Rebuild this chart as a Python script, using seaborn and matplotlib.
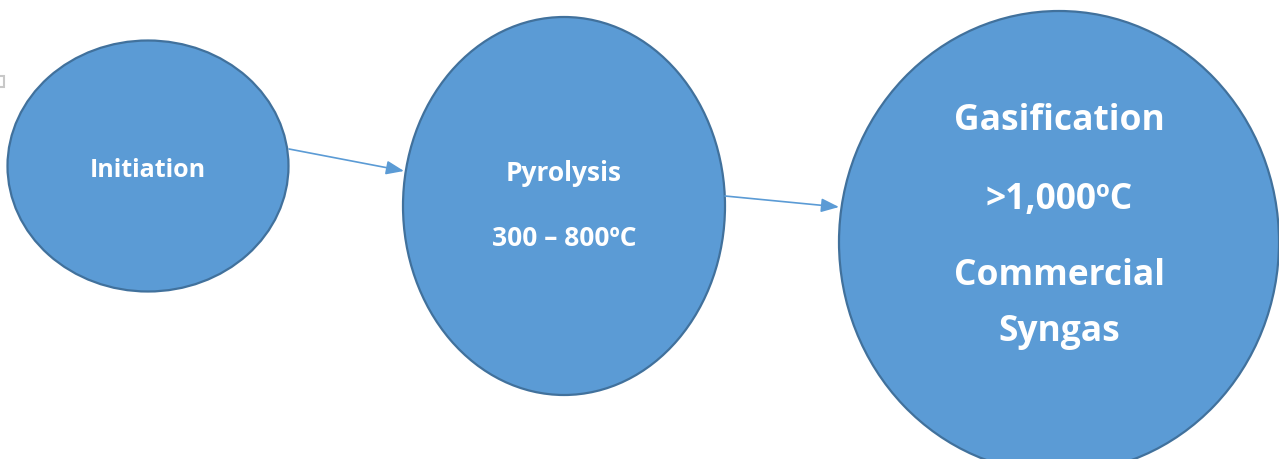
import matplotlib
matplotlib.use("Agg")
import matplotlib.pyplot as plt
from matplotlib.patches import Ellipse, Rectangle
import seaborn as sns

# stage labels (one list of lines per bubble)
stage_lines = [
    ["Initiation"],
    ["Pyrolysis", "300 – 800ºC"],
    ["Gasification", ">1,000ºC", "Commercial", "Syngas"],
]

# layout in pixel coordinates
CENTERS = [(148, 167), (564, 207), (1059, 243)]
SIZES = [(281, 251), (322, 378), (440, 462)]
LINE_Y = [[171], [174, 239], [121, 200, 276, 332]]
FONT_PT = [18, 19, 25.5]
ARROWS = [((289, 150), (404, 172)), ((725, 197), (839, 208))]

FILL = "#5B9BD5"
EDGE = "#41719C"

sns.set_theme(style="white")
plt.rcParams["font.family"] = ["Open Sans", "DejaVu Sans"]

fig = plt.figure(figsize=(12.79, 4.6), dpi=100)
ax = fig.add_axes([0, 0, 1, 1])
ax.set_xlim(0, 1279)
ax.set_ylim(460, 0)
ax.set_aspect("equal")
ax.axis("off")

# leftover selection handle at the left border
ax.add_patch(Rectangle((-4, 77), 8, 11, fill=False, edgecolor="#c8c8c8", linewidth=1.5))

for (cx, cy), (w, h), lines, ys, fs in zip(CENTERS, SIZES, stage_lines, LINE_Y, FONT_PT):
    ax.add_patch(Ellipse((cx, cy), w, h, facecolor=FILL, edgecolor=EDGE, linewidth=1.6))
    for txt, y in zip(lines, ys):
        ax.text(cx, y, txt, ha="center", va="center", color="white",
                fontsize=fs, fontweight="bold")

for start, end in ARROWS:
    ax.annotate("", xy=end, xytext=start,
                arrowprops=dict(arrowstyle="-|>,head_length=0.9,head_width=0.35",
                                color=FILL, linewidth=1.2, shrinkA=0, shrinkB=0))

fig.savefig("out.png", dpi=100)
